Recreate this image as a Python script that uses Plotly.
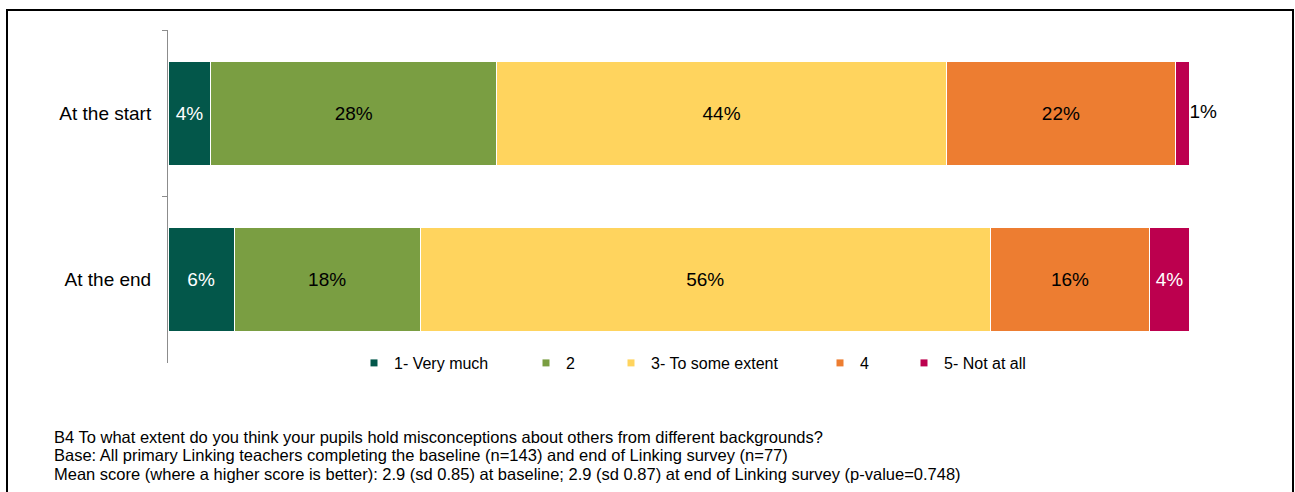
import plotly.graph_objects as go

# Survey responses (% of teachers), baseline n=143 and end of Linking n=77
categories = ["At the start", "At the end"]
series_names = ["1- Very much", "2", "3- To some extent", "4", "5- Not at all"]
very_much = [4.20, 6.49]
two = [27.97, 18.18]
some_extent = [44.05, 55.84]
four = [22.38, 15.58]
not_at_all = [1.40, 3.90]

series_values = [very_much, two, some_extent, four, not_at_all]
colors = ["#03574A", "#7A9E42", "#FFD45E", "#ED7D31", "#BC004E"]
label_colors = ["white", "black", "black", "black", "white"]

FONT = "Liberation Sans, Arial, sans-serif"
LABEL_SIZE = 19
W, H = 1295, 492
L, R, T, B = 168, 105, 30, 129
PW, PH = W - L - R, H - T - B


def px_to_paper_x(px):
    return (px - L) / PW


def px_to_paper_y(py):
    return 1 - (py - T) / PH


fig = go.Figure()

# Segments too thin for an inside label get their label just past the bar end
TOO_THIN = 2.5

for i, (name, vals, col, lc) in enumerate(zip(series_names, series_values, colors, label_colors)):
    templates = ["" if v < TOO_THIN else "%{x:.0f}%" for v in vals]
    fig.add_trace(go.Bar(
        y=categories,
        x=vals,
        orientation="h",
        name=name,
        marker=dict(color=col, line=dict(color="white", width=1)),
        texttemplate=templates,
        textposition="inside",
        insidetextanchor="middle",
        insidetextfont=dict(color=lc, size=LABEL_SIZE, family=FONT),
        textangle=0,
        constraintext="none",
        showlegend=False,
        hoverinfo="skip",
    ))

# Outside labels for the thin end segments
row_totals = [sum(s[j] for s in series_values) for j in range(len(categories))]
thin_rows = [j for j, v in enumerate(not_at_all) if v < TOO_THIN]
fig.add_trace(go.Scatter(
    x=[row_totals[j] for j in thin_rows],
    y=[categories[j] for j in thin_rows],
    text=[f"{not_at_all[j]:.0f}%" for j in thin_rows],
    mode="text",
    textposition="middle right",
    textfont=dict(color="black", size=LABEL_SIZE, family=FONT),
    cliponaxis=False,
    showlegend=False,
    hoverinfo="skip",
))

# Legend entries, each in its own legend box so spacing follows the labels
legend_text_x = [394, 566, 651, 860, 944]
legend_ids = ["legend", "legend2", "legend3", "legend4", "legend5"]
for name, col, lid in zip(series_names, colors, legend_ids):
    fig.add_trace(go.Scatter(
        x=[None], y=[None], mode="markers", name=name,
        marker=dict(symbol="square", size=7, color=col),
        legend=lid, showlegend=True, hoverinfo="skip",
    ))

legend_layout = {}
for lid, tx in zip(legend_ids, legend_text_x):
    legend_layout[lid] = dict(
        x=px_to_paper_x(tx - 40), xanchor="left",
        y=px_to_paper_y(363), yanchor="middle",
        orientation="h", bgcolor="rgba(0,0,0,0)", borderwidth=0,
        font=dict(family=FONT, size=16, color="black"),
        itemclick=False, itemdoubleclick=False,
    )

notes = [
    "B4 To what extent do you think your pupils hold misconceptions about others from different backgrounds?",
    "Base: All primary Linking teachers completing the baseline (n=143) and end of Linking survey (n=77)",
    "Mean score (where a higher score is better): 2.9 (sd 0.85) at baseline; 2.9 (sd 0.87) at end of Linking survey (p-value=0.748)",
]
note_y = [436.5, 455, 474]
annotations = [
    dict(text=t, x=px_to_paper_x(52), y=px_to_paper_y(py), xref="paper", yref="paper",
         xanchor="left", yanchor="middle", showarrow=False,
         font=dict(family=FONT, size=16.5, color="black"))
    for t, py in zip(notes, note_y)
]

fig.update_layout(
    width=W, height=H,
    margin=dict(l=L, r=R, t=T, b=B, pad=0),
    barmode="stack",
    bargap=0.375,
    paper_bgcolor="white",
    plot_bgcolor="white",
    font=dict(family=FONT, color="black"),
    xaxis=dict(range=[0, 100.05], visible=False, fixedrange=True),
    yaxis=dict(
        type="category", range=[1.5, -0.5],
        showline=True, linecolor="#8C8C8C", linewidth=1,
        ticks="outside", ticklen=5, tickcolor="#8C8C8C", tickwidth=1,
        tickson="boundaries", showgrid=False, zeroline=False,
        tickfont=dict(family=FONT, size=LABEL_SIZE, color="black"),
        ticklabelstandoff=12, fixedrange=True,
    ),
    annotations=annotations,
    shapes=[dict(
        type="rect", xref="paper", yref="paper",
        x0=px_to_paper_x(7), x1=px_to_paper_x(1293),
        y0=px_to_paper_y(520), y1=px_to_paper_y(10),
        line=dict(color="black", width=2), fillcolor="rgba(0,0,0,0)",
    )],
    **legend_layout,
)

fig.write_html("out.html")
